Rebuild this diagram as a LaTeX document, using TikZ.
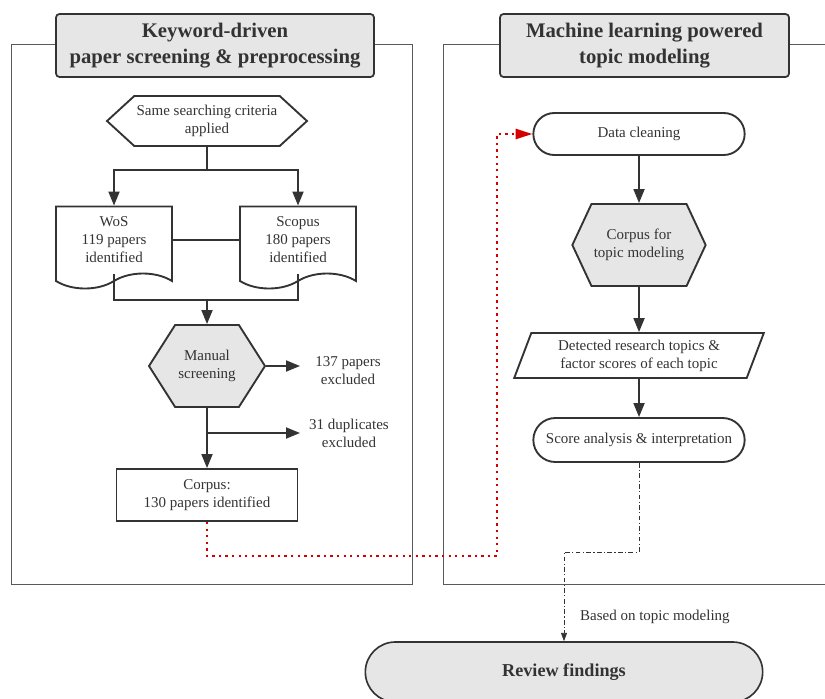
\documentclass[tikz,border=0pt]{standalone}
\usepackage{fontspec}
\setmainfont{Liberation Serif}
\usetikzlibrary{shapes.geometric, shapes.symbols, shapes.misc, arrows.meta}
\definecolor{ink}{HTML}{333333}
\definecolor{shade}{HTML}{E6E6E6}
\definecolor{frm}{HTML}{5A5A5A}
\definecolor{dotred}{HTML}{D40000}

\begin{document}
\begin{tikzpicture}[x=0.03cm, y=-0.03cm]
	\tikzset{
		flow/.style={draw=ink, line width=1.6pt, text=ink, align=center, inner sep=2pt, font=\fontsize{12.8}{15.4}\selectfont},
		ttl/.style={draw=ink, line width=1.5pt, fill=shade, rounded corners=3pt, text=ink, align=center, minimum height=1.89cm, font=\fontsize{17.7}{22}\selectfont\bfseries},
		hexa/.style={flow, signal, signal to=west and east},
		doc/.style={flow, tape, tape bend top=none, tape bend bottom=in and out, tape bend height=0.45cm, minimum width=3.48cm, minimum height=2.46cm},
		pill/.style={flow, rounded rectangle, minimum width=6.48cm},
		lbl/.style={text=ink, align=center, font=\fontsize{12.8}{15.4}\selectfont},
		ln/.style={draw=ink, line width=1.6pt},
		arr/.style={ln, -{Triangle[length=0.42cm, width=0.33cm]}},
	}

	\useasboundingbox (0,0) rectangle (825,698);

	\draw[frm, line width=0.8pt] (11,44) rectangle (412,584);
	\draw[frm, line width=0.8pt] (443,44) rectangle (860,584);

	\node[ttl, minimum width=9.54cm] (ttlL) at (215,45.5) {Keyword-driven\\paper screening \& preprocessing};
	\node[ttl, minimum width=8.67cm] (ttlR) at (644.5,45.5) {Machine learning powered\\topic modeling};

	\node[hexa, signal pointer angle=85, minimum width=5.4cm, minimum height=1.5cm] (crit) at (207,121) {Same searching criteria\\applied};
	\node[doc] (wos) at (114,240) {WoS\\119 papers\\identified};
	\node[doc] (sco) at (298,240) {Scopus\\180 papers\\identified};
	\node[hexa, fill=shade, signal pointer angle=115, minimum width=3.48cm, minimum height=2.46cm] (scr) at (207,366) {Manual\\screening};
	\node[lbl] (exc1) at (348,371) {137 papers\\excluded};
	\node[lbl] (exc2) at (349,433) {31 duplicates\\excluded};
	\node[flow, rectangle, minimum width=5.43cm, minimum height=1.56cm] (corp) at (207,495) {Corpus:\\130 papers identified};

	\node[pill, minimum height=1.26cm] (clean) at (639,134) {Data cleaning};
	\node[hexa, fill=shade, signal pointer angle=130, minimum width=3.48cm, minimum height=2.46cm] (ctm) at (639,245) {Corpus for\\topic modeling};
	\node[flow, trapezium, trapezium left angle=70, trapezium right angle=110, trapezium stretches=true, minimum width=7.5cm, minimum height=1.35cm] (det) at (639,355.5) {Detected research topics \&\\factor scores of each topic};
	\node[pill, minimum height=1.32cm] (score) at (639,440) {Score analysis \& interpretation};

	\node[flow, rounded rectangle, fill=shade, line width=1.4pt, minimum width=12.06cm, minimum height=1.8cm, font=\fontsize{15.5}{18}\selectfont\bfseries] (rev) at (564,672) {Review findings};
	\node[lbl, anchor=west] (basis) at (576,617) {Based on topic modeling};

	\coordinate (split) at (207,170);
	\coordinate (merge) at (207,300);
	\coordinate (brk) at (207,433);
	\coordinate (out1) at (300,366);
	\coordinate (out2) at (300,433);
	\coordinate (turn) at (497,556);
	\coordinate (step2) at (564,552);

	\draw[ln] (crit) -- (split);
	\draw[arr] (split) -| (wos);
	\draw[arr] (split) -| (sco);

	\draw[ln] (wos) -- (sco);
	\draw[ln] (wos.south) |- (merge);
	\draw[ln] (sco.south) |- (merge);
	\draw[arr] (merge) -- (scr);

	\draw[arr] (scr.east) -- (out1);
	\draw[arr] (scr) -- (corp);
	\draw[arr] (brk) -- (out2);

	\draw[dotred, line width=2pt, dash pattern=on 2pt off 3.6pt, -{Triangle[length=0.5cm, width=0.3cm]}] (corp.south) |- (turn) |- (clean.west);

	\draw[arr] (clean) -- (ctm);
	\draw[arr] (ctm) -- (det);
	\draw[arr] (det) -- (score);

	\draw[ink, line width=0.7pt, dash pattern=on 4pt off 2pt on 1pt off 2pt, -{Triangle[length=0.25cm, width=0.18cm]}] (score.south) |- (step2) -- (rev.north);
\end{tikzpicture}
\end{document}
